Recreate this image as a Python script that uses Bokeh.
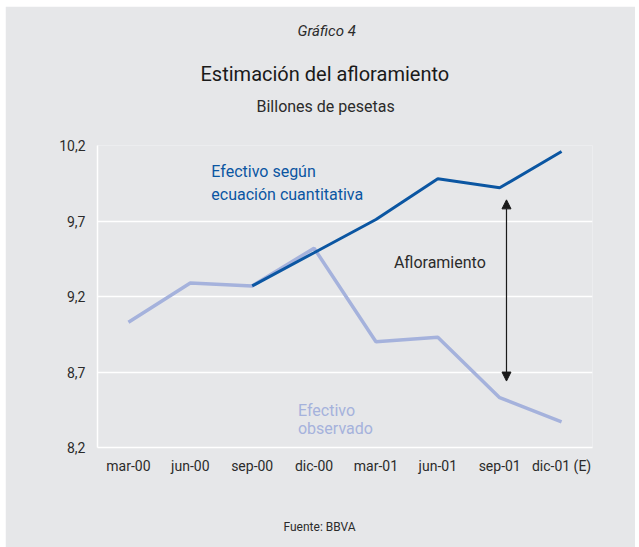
from bokeh.plotting import figure
from bokeh.models import Range1d, FixedTicker, Arrow, NormalHead, Title
from bokeh.embed import file_html
from bokeh.resources import INLINE
from bokeh.core.properties import value

categories = ["mar-00", "jun-00", "sep-00", "dic-00", "mar-01", "jun-01", "sep-01", "dic-01 (E)"]
observado = [9.03, 9.29, 9.27, 9.52, 8.90, 8.93, 8.53, 8.37]
cuantitativa_cats = ["sep-00", "dic-00", "mar-01", "jun-01", "sep-01", "dic-01 (E)"]
cuantitativa = [9.27, 9.49, 9.71, 9.98, 9.92, 10.16]
y_ticks = [8.2, 8.7, 9.2, 9.7, 10.2]
y_labels = ["8,2", "8,7", "9,2", "9,7", "10,2"]

FONT = "Roboto"
BG = "#e6e7e9"
DARK = "#0b56a2"
LIGHT = "#a5b2dc"
TXT = "#2b2b2b"

xpos = {c: i + 0.5 for i, c in enumerate(categories)}

p = figure(width=630, height=541, output_backend="svg", toolbar_location=None,
           x_range=Range1d(0, len(categories)), y_range=Range1d(8.2, 10.2),
           min_border_left=92, min_border_right=43, min_border_top=139, min_border_bottom=100)
p.margin = (6, 0, 0, 5)
p.background_fill_color = BG
p.border_fill_color = BG
p.outline_line_color = None

p.line([xpos[c] for c in categories], observado, line_color=LIGHT, line_width=3.5)
p.line([xpos[c] for c in cuantitativa_cats], cuantitativa, line_color=DARK, line_width=3)

# axes
p.xaxis.ticker = FixedTicker(ticks=[xpos[c] for c in categories])
p.xaxis.major_label_overrides = {xpos[c]: c for c in categories}
p.yaxis.ticker = FixedTicker(ticks=y_ticks)
p.yaxis.major_label_overrides = {t: l for t, l in zip(y_ticks, y_labels)}
for ax in (p.xaxis[0], p.yaxis[0]):
    ax.axis_line_color = "white"
    ax.axis_line_width = 1.5
    ax.major_tick_line_color = None
    ax.minor_tick_line_color = None
    ax.major_label_text_font = FONT
    ax.major_label_text_font_size = "14px"
    ax.major_label_text_color = TXT
p.xaxis.major_label_standoff = 4
p.yaxis.major_label_standoff = 6
p.xgrid.grid_line_color = None
p.ygrid.grid_line_color = "white"
p.ygrid.grid_line_width = 1.5
p.ygrid.ticker = FixedTicker(ticks=y_ticks)

# in-plot texts
p.text(x=[1.84, 1.84], y=[10.03, 9.875], text=["Efectivo según", "ecuación cuantitativa"],
       text_font=value(FONT), text_font_size="16px", text_color=DARK, text_baseline="middle")
p.text(x=[3.24, 3.24], y=[8.445, 8.326], text=["Efectivo", "observado"],
       text_font=value(FONT), text_font_size="16px", text_color=LIGHT, text_baseline="middle")
p.text(x=[4.79], y=[9.425], text=["Afloramiento"],
       text_font=value(FONT), text_font_size="16px", text_color=TXT, text_baseline="middle")

p.add_layout(Arrow(x_start=6.61, y_start=8.64, x_end=6.61, y_end=9.84,
                   line_color="#1a1a1a", line_width=1.2,
                   start=NormalHead(size=9, fill_color="#1a1a1a", line_color="#1a1a1a"),
                   end=NormalHead(size=9, fill_color="#1a1a1a", line_color="#1a1a1a")))


def spacer(gap):
    # a blank title used only to reserve vertical space
    return Title(text=" ", text_font=FONT, text_font_size="1px", standoff=gap)


# stacked above the frame: first added sits closest to the frame
p.add_layout(spacer(27), "above")
p.add_layout(Title(text="Billones de pesetas", align="left", offset=159, standoff=0,
                   text_font=FONT, text_font_size="16px", text_font_style="normal",
                   text_color=TXT), "above")
p.add_layout(Title(text="Estimación del afloramiento", align="left", offset=103, standoff=17,
                   text_font=FONT, text_font_size="20px", text_font_style="normal",
                   text_color="#1a1a1a"), "above")
p.add_layout(Title(text="Gráfico 4", align="left", offset=200, standoff=23,
                   text_font=FONT, text_font_size="15px", text_font_style="italic",
                   text_color=TXT), "above")
# below: x axis, spacer, source
p.add_layout(spacer(38), "below")
p.add_layout(Title(text="Fuente: BBVA", align="left", offset=186, standoff=0,
                   text_font=FONT, text_font_size="12px", text_font_style="normal",
                   text_color=TXT), "below")

open("out.html", "w").write(file_html(p, INLINE))
